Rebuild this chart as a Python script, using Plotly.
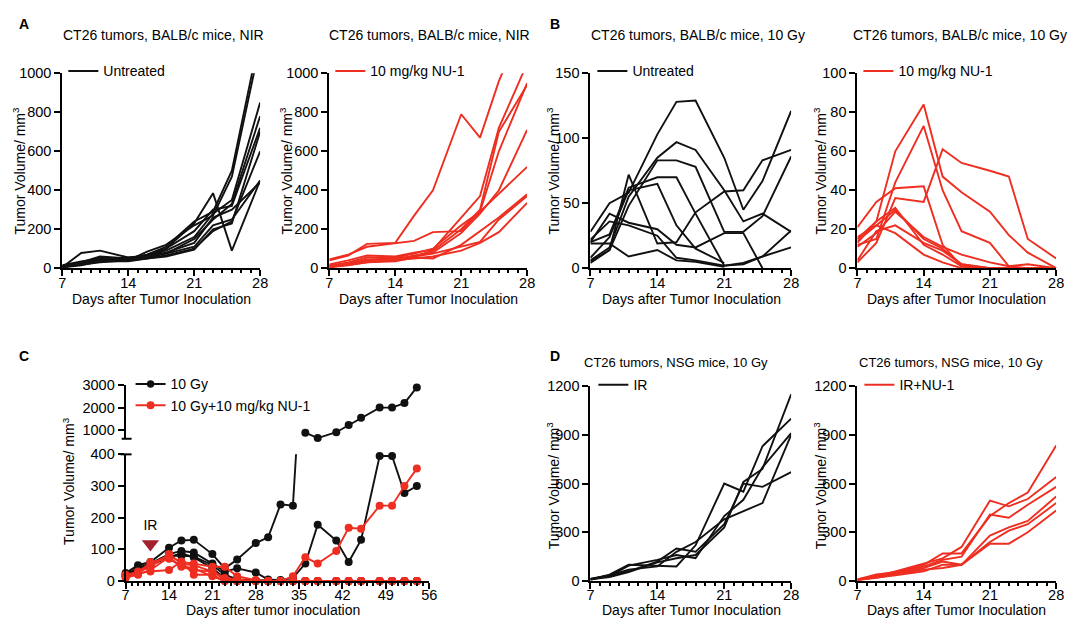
import plotly.graph_objects as go

# ---------------- DATA ----------------
days = [7, 9, 11, 14, 16, 18, 21, 23, 25, 28]
days_C = [7, 9, 11, 14, 16, 18, 21, 23, 25, 28, 30, 32, 34, 36, 38, 41, 43, 45, 48, 50, 52, 54]

# Panel A left: untreated, NIR
A_untreated = [
    [10, 30, 55, 45, 70, 110, 240, 290, 500, 1200],
    [5, 78, 90, 55, 60, 100, 230, 385, 90, 450],
    [15, 35, 50, 40, 85, 120, 220, 270, 470, 1150],
    [8, 25, 45, 40, 60, 90, 160, 280, 350, 850],
    [5, 20, 40, 45, 55, 75, 150, 250, 330, 780],
    [10, 30, 60, 50, 70, 100, 190, 300, 320, 720],
    [5, 15, 35, 35, 50, 65, 100, 190, 240, 600],
    [12, 28, 45, 55, 65, 75, 110, 220, 250, 450],
    [6, 18, 30, 40, 50, 60, 95, 200, 230, 700],
    [10, 22, 38, 50, 60, 80, 130, 260, 300, 440],
]
# Panel A right: 10 mg/kg NU-1, NIR
A_nu1 = [
    [40, 65, 125, 130, 270, 400, 790, 670, 960, 1300],
    [45, 70, 110, 130, 140, 185, 190, 290, 380, 520],
    [20, 40, 65, 60, 80, 95, 260, 370, 720, 1050],
    [10, 30, 55, 55, 75, 100, 220, 290, 600, 950],
    [15, 25, 45, 50, 60, 90, 200, 300, 700, 940],
    [5, 20, 35, 40, 65, 80, 180, 280, 400, 710],
    [10, 18, 30, 35, 55, 50, 120, 190, 260, 380],
    [5, 15, 30, 40, 50, 60, 90, 130, 185, 335],
    [12, 25, 40, 50, 60, 75, 110, 135, 250, 370],
]
# Panel B left: untreated, 10 Gy
B_untreated = [
    [28, 50, 58, 103, 128, 129, 85, 45, 67, 121],
    [6, 16, 55, 85, 97, 91, 60, 36, 42, 28],
    [5, 14, 48, 83, 83, 78, 28, 28, 40, 86],
    [20, 26, 62, 70, 70, 42, 2, 4, 9, 16],
    [4, 14, 72, 19, 20, 43, 59, 60, 83, 91],
    [20, 42, 35, 30, 18, 16, 27, 27, 0, None],
    [19, 19, 9, 14, 6, 5, 1, None, None, None],
    [22, 36, 33, 25, 8, 6, 2, 3, 9, 29],
    [8, 24, 60, 65, 33, 15, 4, None, None, None],
]
# Panel B right: 10 mg/kg NU-1, 10 Gy
B_nu1 = [
    [15, 24, 60, 84, 47, 39, 29, 17, 8, 0],
    [12, 15, 44, 73, 40, 19, 13, 1, 0, 0],
    [3, 13, 36, 34, 61, 54, 50, 47, 15, 5],
    [21, 34, 41, 42, 12, 1, 0, 0, 0, 0],
    [14, 22, 30, 15, 10, 2, 0, 0, 0, 0],
    [13, 24, 31, 12, 7, 1, 0, 0, 0, 0],
    [16, 22, 18, 7, 3, 0, 0, 0, 0, 0],
    [11, 18, 29, 16, 11, 7, 3, 1, 2, 0],
    [4, 19, 22, 13, 9, 2, 0, 0, 0, 0],
]
# Panel C: 10 Gy vs 10 Gy + NU-1 (broken axis)
C_10Gy = [
    [25, 50, 60, 105, 128, 130, 85, 40, 68, 120, 138, 242, 238, 880, 640, 900, 1220, 1550, 2000, 2000, 2200, 2900],
    [20, 42, 55, 85, 95, 90, 55, 30, 40, 27, 5, 3, 10, 55, 178, 128, 60, 130, 395, 395, 278, 300],
    [18, 35, 55, 80, 80, 78, 50, 20, 5, 2, 0, 0, 0, 0, 0, 0, 0, 0, 0, 0, 0, 0],
    [15, 30, 50, 75, 88, 75, 40, 10, 0, 0, 0, 0, 0, 0, 0, 0, 0, 0, 0, 0, 0, 0],
]
C_combo = [
    [15, 30, 55, 80, 60, 55, 45, 45, 15, 3, 0, 0, 15, 75, 55, 95, 168, 165, 238, 238, 300, 355],
    [20, 28, 45, 85, 55, 50, 30, 10, 5, 0, 0, 0, 0, 0, 0, 0, 0, 0, 0, 0, 0, 0],
    [15, 25, 30, 35, 62, 20, 20, 0, 0, 0, 0, 0, 0, 0, 0, 0, 0, 0, 0, 0, 0, 0],
    [18, 22, 60, 70, 48, 40, 15, 0, 0, 0, 0, 0, 0, 0, 0, 0, 0, 0, 0, 0, 0, 0],
    [10, 20, 35, 75, 45, 35, 30, 5, 0, 0, 0, 0, 0, 0, 0, 0, 0, 0, 0, 0, 0, 0],
]
IR_day = [11]
IR_level = [117]
C_break = 400

# Panel D: NSG mice, 10 Gy
D_IR = [
    [10, 40, 100, 95, 90, 220, 600, 550, 830, 1000],
    [15, 35, 60, 120, 200, 180, 350, 600, 580, 670],
    [12, 30, 95, 130, 160, 140, 400, 500, 700, 910],
    [8, 35, 70, 90, 180, 240, 380, 430, 480, 900],
    [10, 25, 55, 115, 140, 160, 330, 610, 690, 1150],
]
D_IRNU1 = [
    [10, 40, 55, 100, 170, 170, 400, 480, 545, 835],
    [8, 30, 60, 110, 140, 210, 495, 460, 505, 640],
    [5, 35, 50, 90, 130, 150, 410, 390, 470, 580],
    [12, 25, 45, 80, 120, 100, 280, 330, 370, 520],
    [6, 20, 40, 70, 80, 100, 240, 310, 350, 480],
    [8, 20, 35, 60, 100, 100, 230, 230, 300, 435],
]

# ---------------- STYLE ----------------
BLACK = "#111111"
RED = "#ee2e20"
IRCOL = "#a3202e"
FONT = "Liberation Sans, Arial, sans-serif"
W, H = 1080, 629
LW = 1.9


def xd(a, b):
    return [a / W, b / W]


def yd(top, bottom):
    return [1 - bottom / H, 1 - top / H]


def px_x(v):
    return v / W


def px_y(v):
    return 1 - v / H


fig = go.Figure()

axis_common = dict(showline=True, linecolor="black", linewidth=2, ticks="outside",
                   ticklen=6, tickwidth=2, tickcolor="black", showgrid=False,
                   zeroline=False, tickfont=dict(size=14.5, color="black", family=FONT))


def xaxis_def(domain, anchor, rng, dtick):
    d = dict(axis_common)
    d.update(domain=domain, anchor=anchor, range=rng, tick0=7, dtick=dtick,
             ticklabelstandoff=-6,
             minor=dict(dtick=1, tick0=7, ticklen=3, tickwidth=1.5, tickcolor="black", ticks="outside"))
    return d


def yaxis_def(domain, anchor, rng, tickvals):
    d = dict(axis_common)
    d.update(domain=domain, anchor=anchor, range=rng, tickmode="array", tickvals=tickvals)
    return d


layout_axes = {
    "xaxis": xaxis_def(xd(59, 259), "y", [7, 28], 7),
    "yaxis": yaxis_def(yd(67, 267), "x", [0, 1000], [0, 200, 400, 600, 800, 1000]),
    "xaxis2": xaxis_def(xd(329, 529), "y2", [7, 28], 7),
    "yaxis2": yaxis_def(yd(67, 267), "x2", [0, 1000], [0, 200, 400, 600, 800, 1000]),
    "xaxis3": xaxis_def(xd(593, 796), "y3", [7, 28], 7),
    "yaxis3": yaxis_def(yd(67, 267), "x3", [0, 150], [0, 50, 100, 150]),
    "xaxis4": xaxis_def(xd(863, 1064), "y4", [7, 28], 7),
    "yaxis4": yaxis_def(yd(67, 267), "x4", [0, 100], [0, 20, 40, 60, 80, 100]),
    "xaxis5": xaxis_def(xd(123, 430), "y5", [7, 56], 7),
    "yaxis5": yaxis_def(yd(458, 588), "x5", [0, 400], [0, 100, 200, 300, 400]),
    "yaxis6": yaxis_def(yd(387, 442), "x5", [609, 3000], [1000, 2000, 3000]),
    "xaxis7": xaxis_def(xd(593, 796), "y7", [7, 28], 7),
    "yaxis7": yaxis_def(yd(388, 588), "x7", [0, 1200], [0, 300, 600, 900, 1200]),
    "xaxis8": xaxis_def(xd(863, 1064), "y8", [7, 28], 7),
    "yaxis8": yaxis_def(yd(388, 588), "x8", [0, 1200], [0, 300, 600, 900, 1200]),
}


def add_group(series, xs, xa, ya, color, name, legend):
    for i, s in enumerate(series):
        fig.add_trace(go.Scatter(x=xs, y=s, mode="lines", xaxis=xa, yaxis=ya,
                                 line=dict(color=color, width=LW), name=name,
                                 legendgroup=legend, legend=legend,
                                 showlegend=(i == 0), connectgaps=False,
                                 hoverinfo="skip"))


add_group(A_untreated, days, "x", "y", BLACK, "Untreated", "legend")
add_group(A_nu1, days, "x2", "y2", RED, "10 mg/kg NU-1", "legend2")
add_group(B_untreated, days, "x3", "y3", BLACK, "Untreated", "legend3")
add_group(B_nu1, days, "x4", "y4", RED, "10 mg/kg NU-1", "legend4")
add_group(D_IR, days, "x7", "y7", BLACK, "IR", "legend6")
add_group(D_IRNU1, days, "x8", "y8", RED, "IR+NU-1", "legend7")


# Panel C traces (split at the axis break)
def add_c(series, color, name, grp):
    for i, s in enumerate(series):
        idx = next((k for k, v in enumerate(s) if v > C_break), None)
        if idx is None:
            xs, ys, sizes = days_C, s, [8] * len(s)
        else:
            xs, ys = days_C[:idx + 1], s[:idx + 1]
            sizes = [8] * idx + [0]
        fig.add_trace(go.Scatter(x=xs, y=ys, mode="lines+markers", xaxis="x5", yaxis="y5",
                                 line=dict(color=color, width=LW),
                                 marker=dict(color=color, size=sizes, opacity=1, sizemode="diameter",
                                             line=dict(width=0)),
                                 name=name, legendgroup=grp, legend="legend5",
                                 showlegend=(i == 0), cliponaxis=False, hoverinfo="skip"))
        if idx is not None:
            fig.add_trace(go.Scatter(x=days_C[idx:], y=s[idx:], mode="lines+markers",
                                     xaxis="x5", yaxis="y6",
                                     line=dict(color=color, width=LW),
                                     marker=dict(color=color, size=8, opacity=1, line=dict(width=0)),
                                     name=name, legendgroup=grp, legend="legend5",
                                     showlegend=False, cliponaxis=False, hoverinfo="skip"))


add_c(C_10Gy, BLACK, "10 Gy", "c1")
add_c(C_combo, RED, "10 Gy+10 mg/kg NU-1", "c2")

fig.add_trace(go.Scatter(x=IR_day, y=IR_level, mode="markers+text", xaxis="x5", yaxis="y5",
                         marker=dict(symbol="triangle-down", size=15, color=IRCOL, opacity=1,
                                     line=dict(width=0)),
                         text=["IR"], textposition="top center",
                         textfont=dict(size=14, color="black", family=FONT),
                         showlegend=False, cliponaxis=False, hoverinfo="skip"))

# legends
def legend_def(x0, yc):
    return dict(x=px_x(x0), y=px_y(yc), xanchor="left", yanchor="middle",
                bgcolor="rgba(0,0,0,0)", borderwidth=0, itemwidth=30,
                font=dict(size=14, color="black", family=FONT), tracegroupgap=0,
                itemclick=False, itemdoubleclick=False)

legends = {
    "legend": legend_def(60, 65),
    "legend2": legend_def(330, 65),
    "legend3": legend_def(595, 65),
    "legend4": legend_def(864, 65),
    "legend5": legend_def(128, 397),
    "legend6": legend_def(596, 387),
    "legend7": legend_def(865, 387),
}

# annotations (titles, panel letters, axis titles)
ann = []


def txt(x, y, s, size=14, bold=False, angle=0, xanchor="center"):
    ann.append(dict(x=px_x(x), y=px_y(y), xref="paper", yref="paper", text=("<b>%s</b>" % s if bold else s),
                    showarrow=False, textangle=angle, xanchor=xanchor, yanchor="middle",
                    font=dict(size=size, color="black", family=FONT)))


txt(20, 16, "A", 14, True)
txt(557, 16, "B", 14, True)
txt(20, 357, "C", 14, True)
txt(557, 357, "D", 14, True)

txt(161, 28, "CT26 tumors, BALB/c mice, NIR")
txt(430, 28, "CT26 tumors, BALB/c mice, NIR")
txt(702, 28, "CT26 tumors, BALB/c mice, 10 Gy")
txt(967, 28, "CT26 tumors, BALB/c mice, 10 Gy")
txt(680, 364, "CT26 tumors, NSG mice, 10 Gy", 13)
txt(958, 364, "CT26 tumors, NSG mice, 10 Gy", 13)

YT = "Tumor Volume/ mm<sup>3</sup>"
for x, y in [(15, 167), (285, 167), (555, 167), (825, 167), (65, 485), (555, 490), (825, 490)]:
    txt(x, y, YT, 14, angle=-90)

XT = "Days after Tumor Inoculation"
for x, y in [(159, 299), (429, 299), (695, 299), (963, 299), (695, 618), (963, 618)]:
    txt(x, y, XT, 14)
txt(272, 618, "Days after tumor inoculation", 14)

# axis-break caps for panel C
shapes = [
    dict(type="line", xref="paper", yref="paper", x0=px_x(119), x1=px_x(129), y0=px_y(442), y1=px_y(442),
         line=dict(color="black", width=2)),
    dict(type="line", xref="paper", yref="paper", x0=px_x(118), x1=px_x(129), y0=px_y(458), y1=px_y(458),
         line=dict(color="black", width=2)),
]

fig.update_layout(width=W, height=H, margin=dict(l=0, r=0, t=0, b=0),
                  paper_bgcolor="white", plot_bgcolor="white",
                  font=dict(family=FONT, color="black"),
                  annotations=ann, shapes=shapes, showlegend=True,
                  **layout_axes, **legends)

fig.write_html("out.html", config={"displayModeBar": False},
               post_script="document.body.style.margin='0';document.body.style.overflow='hidden';")
